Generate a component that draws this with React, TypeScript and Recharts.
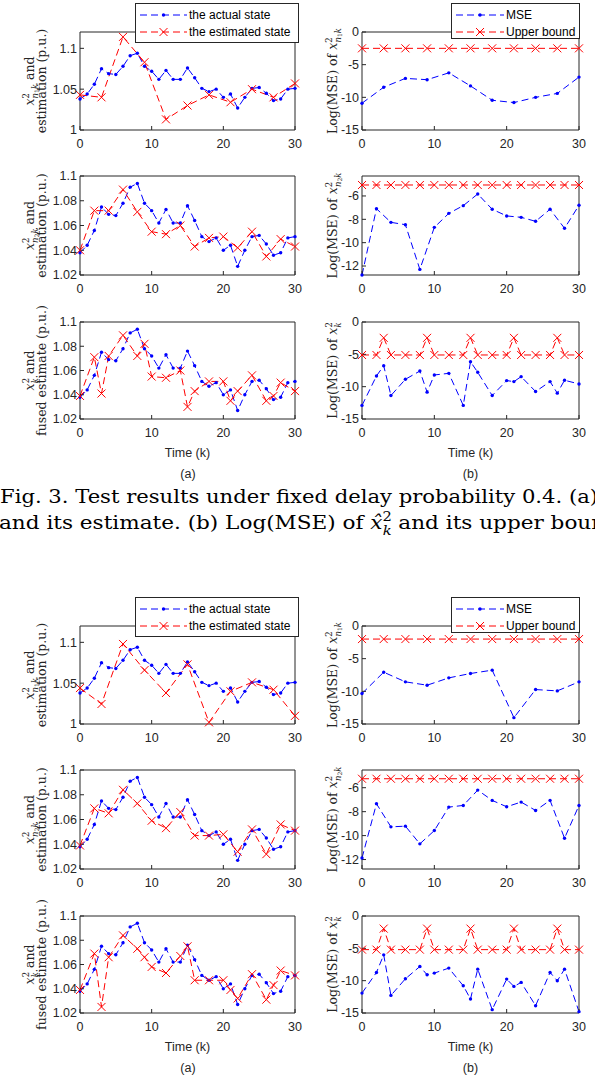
import { LineChart, Line, XAxis, YAxis } from "recharts"

const BLUE = "#0000ff"
const RED = "#ff0000"
const INK = "#262626"
const SANS = "'Liberation Sans', Arial, Helvetica, sans-serif"
const SERIF = "'DejaVu Serif', 'Liberation Serif', serif"
const DASH = "7 4"

// time steps / sampling instants
const TIME_K = [0, 1, 2, 3, 4, 5, 6, 7, 8, 9, 10, 11, 12, 13, 14, 15, 16, 17, 18, 19, 20, 21, 22, 23, 24, 25, 26, 27, 28, 29, 30]
const K_N1 = [0, 3, 6, 9, 12, 15, 18, 21, 24, 27, 30]
const K_N2 = [0, 2, 4, 6, 8, 10, 12, 14, 16, 18, 20, 22, 24, 26, 28, 30]
const K_FUSED = [0, 2, 3, 4, 6, 8, 9, 10, 12, 14, 15, 16, 18, 20, 21, 22, 24, 26, 27, 28, 30]

const X_TICKS = [0, 10, 20, 30]
const Y_TICKS_N1 = [1, 1.05, 1.1]
const Y_TICKS_EST = [1.02, 1.04, 1.06, 1.08, 1.1]
const Y_TICKS_LOG = [-15, -10, -5, 0]
const Y_TICKS_LOG_N2 = [-12, -10, -8, -6]

const LEGEND_STATE = ["the actual state", "the estimated state"]
const LEGEND_MSE = ["MSE", "Upper bound"]

// actual state, same trace in every (a) panel
const ACTUAL_STATE = [1.038, 1.044, 1.056, 1.075, 1.069, 1.068, 1.078, 1.091, 1.094, 1.078, 1.072, 1.062, 1.073, 1.062, 1.062, 1.076, 1.064, 1.051, 1.047, 1.05, 1.04, 1.044, 1.027, 1.04, 1.051, 1.052, 1.045, 1.036, 1.038, 1.05, 1.051]

// Fig. 3: fixed delay probability 0.4
const EST_N1_F3 = [1.043, 1.04, 1.114, 1.083, 1.013, 1.03, 1.043, 1.034, 1.05, 1.04, 1.057]
const MSE_N1_F3 = [-10.9, -8.45, -7.1, -7.3, -6.25, -8.25, -10.45, -10.8, -10.0, -9.4, -6.9]
const BOUND_N1_F3 = [-2.5, -2.5, -2.5, -2.5, -2.5, -2.5, -2.5, -2.5, -2.5, -2.5, -2.5]
const EST_N2_F3 = [1.04, 1.072, 1.072, 1.089, 1.071, 1.055, 1.053, 1.06, 1.043, 1.05, 1.051, 1.042, 1.055, 1.035, 1.049, 1.043]
const MSE_N2_F3 = [-12.77, -7.09, -8.26, -8.46, -12.29, -8.69, -7.49, -6.83, -5.83, -7.14, -7.71, -7.83, -8.17, -7.14, -8.77, -6.8]
const BOUND_N2_F3 = [-5.06, -5.06, -5.06, -5.06, -5.06, -5.06, -5.06, -5.06, -5.06, -5.06, -5.06, -5.06, -5.06, -5.06, -5.06, -5.06]
const FUSED_F3 = [1.039, 1.071, 1.041, 1.072, 1.089, 1.072, 1.082, 1.055, 1.054, 1.06, 1.03, 1.043, 1.051, 1.051, 1.035, 1.043, 1.056, 1.035, 1.039, 1.05, 1.043]
const MSE_FUSED_F3 = [-12.9, -8.35, -6.76, -11.37, -8.86, -7.58, -10.85, -8.19, -7.94, -12.9, -6.14, -7.78, -11.37, -9.06, -9.22, -8.45, -10.75, -9.22, -11.0, -9.01, -9.58]
const BOUND_FUSED_F3 = [-5.1, -5.1, -2.45, -5.1, -5.1, -5.1, -2.45, -5.1, -5.1, -5.1, -2.45, -5.1, -5.1, -5.1, -2.45, -5.1, -5.1, -5.1, -2.45, -5.1, -5.1]

// lower figure
const EST_N1_F4 = [1.044, 1.0245, 1.098, 1.066, 1.038, 1.073, 1.002, 1.04, 1.051, 1.042, 1.01]
const MSE_N1_F4 = [-10.34, -7.07, -8.55, -9.06, -7.94, -7.27, -6.76, -14.03, -9.73, -9.93, -8.55]
const BOUND_N1_F4 = [-2, -2, -2, -2, -2, -2, -2, -2, -2, -2, -2]
const EST_N2_F4 = [1.039, 1.069, 1.065, 1.084, 1.073, 1.059, 1.053, 1.066, 1.047, 1.047, 1.048, 1.034, 1.052, 1.032, 1.056, 1.051]
const MSE_N2_F4 = [-11.87, -7.34, -9.27, -9.21, -10.69, -9.58, -7.62, -7.48, -6.2, -7.06, -7.59, -7.2, -7.9, -7.06, -10.22, -7.48]
const BOUND_N2_F4 = [-5.25, -5.25, -5.25, -5.25, -5.25, -5.25, -5.25, -5.25, -5.25, -5.25, -5.25, -5.25, -5.25, -5.25, -5.25, -5.25]
const FUSED_F4 = [1.039, 1.069, 1.025, 1.066, 1.084, 1.073, 1.066, 1.058, 1.053, 1.067, 1.075, 1.047, 1.047, 1.047, 1.039, 1.032, 1.052, 1.031, 1.043, 1.055, 1.051]
const MSE_FUSED_F4 = [-11.92, -8.73, -6.01, -12.28, -9.71, -7.81, -9.09, -8.83, -8.06, -10.79, -12.84, -8.22, -14.48, -9.76, -10.89, -10.27, -13.87, -8.73, -10.02, -8.22, -14.79]
const BOUND_FUSED_F4 = [-5.2, -5.2, -1.95, -5.2, -5.2, -5.2, -1.95, -5.2, -5.2, -5.2, -1.95, -5.2, -5.2, -5.2, -1.95, -5.2, -5.2, -5.2, -1.95, -5.2, -5.2]

function stateRows(est: number[], estK: number[]) {
  return TIME_K.map((k, i) => {
    const j = estK.indexOf(k)
    return { k, actual: ACTUAL_STATE[i], est: j >= 0 ? est[j] : null }
  })
}

function mseRows(ks: number[], mse: number[], bound: number[]) {
  return ks.map((k, i) => ({ k, mse: mse[i], bound: bound[i] }))
}

function xPath(cx: number, cy: number, s = 4) {
  return `M${cx - s},${cy - s}L${cx + s},${cy + s}M${cx - s},${cy + s}L${cx + s},${cy - s}`
}

const BlueDot = (p: any) =>
  p.cy == null ? <g key={p.index} /> : <circle key={p.index} cx={p.cx} cy={p.cy} r={1.7} fill={BLUE} />

const RedX = (p: any) =>
  p.cy == null ? <g key={p.index} /> : <path key={p.index} d={xPath(p.cx, p.cy)} stroke={RED} strokeWidth={1} fill="none" />

const AW = 46
const AH = 26
const MT = 5
const MR = 7

function Panel({ x0, x1, y0, y1, rows, domain, ticks, blueKey, redKey }: any) {
  const w = AW + (x1 - x0) + 1 + MR
  const h = MT + 1 + (y1 - y0) + AH
  const tickStyle = { fill: INK, fontSize: 12.5, fontFamily: SANS }
  return (
    <div style={{ position: "absolute", left: x0 - AW, top: y0 - MT - 1 }}>
      <LineChart width={w} height={h} data={rows} margin={{ top: MT, right: MR, bottom: 0, left: 0 }}>
        <XAxis dataKey="k" type="number" domain={[0, 30]} ticks={X_TICKS} interval={0} height={AH}
          tickSize={-4} tickMargin={13} stroke={INK} tick={tickStyle} />
        <XAxis xAxisId="top" orientation="top" type="number" domain={[0, 30]} ticks={X_TICKS} height={1}
          tickSize={-4} tick={false} stroke={INK} allowDataOverflow />
        <YAxis type="number" domain={domain} ticks={ticks} interval={0} width={AW}
          tickSize={-4} tickMargin={7} stroke={INK} tick={tickStyle} />
        <YAxis yAxisId="right" orientation="right" type="number" domain={domain} ticks={ticks} width={1}
          tickSize={-4} tick={false} stroke={INK} allowDataOverflow />
        <Line dataKey={blueKey} stroke={BLUE} strokeWidth={1} strokeDasharray={DASH} dot={BlueDot}
          activeDot={false} connectNulls isAnimationActive={false} />
        <Line dataKey={redKey} stroke={RED} strokeWidth={1} strokeDasharray={DASH} dot={RedX}
          activeDot={false} connectNulls isAnimationActive={false} />
      </LineChart>
    </div>
  )
}

// x^2 with a stacked subscript; "after" continues on the baseline
function xTerm(sub: string, size: number, after: string, hat = false) {
  const s = size * 0.68
  const up = size * 0.42
  const down = size * 0.3
  const parts = [
    <tspan key="x" fontStyle="italic">{hat ? "x\u0302" : "x"}</tspan>,
    <tspan key="sup" fontSize={s} dy={-up}>2</tspan>,
  ]
  if (sub === "k") {
    parts.push(<tspan key="k" fontSize={s} fontStyle="italic" dx={-s * 0.62} dy={up + down}>k</tspan>)
  } else {
    parts.push(<tspan key="n" fontSize={s} fontStyle="italic" dx={-s * 0.62} dy={up + down}>n</tspan>)
    parts.push(<tspan key="d" fontSize={s * 0.72} dy={size * 0.12}>{sub.slice(1)}</tspan>)
    parts.push(<tspan key="kk" fontSize={s} fontStyle="italic" dy={-size * 0.12}>k</tspan>)
  }
  if (after) parts.push(<tspan key="after" fontSize={size} dy={-down}>{after}</tspan>)
  return parts
}

function LegendBox({ x, y, w, h, sampleW, labels }: any) {
  return (
    <g>
      <rect x={x + 0.5} y={y + 0.5} width={w} height={h} fill="#fff" stroke={INK} strokeWidth={1} />
      {labels.map((lab: string, i: number) => {
        const cy = y + 12 + i * 17
        const a = x + 5
        const b = a + sampleW
        const col = i === 0 ? BLUE : RED
        return (
          <g key={lab}>
            <line x1={a} y1={cy} x2={b} y2={cy} stroke={col} strokeWidth={1} strokeDasharray={DASH} />
            {i === 0
              ? <circle cx={(a + b) / 2} cy={cy} r={1.7} fill={BLUE} />
              : <path d={xPath((a + b) / 2, cy)} stroke={RED} strokeWidth={1} fill="none" />}
            <text x={b + 2} y={cy + 4.3} fontSize={12} fontFamily={SANS} fill="#000">{lab}</text>
          </g>
        )
      })}
    </g>
  )
}

const COL_A = [80, 295]
const COL_B = [362, 579]
const ROWS_Y = [[32, 130], [176, 275], [322, 419]]

const GROUPS = [
  {
    dy: 0,
    est: [stateRows(EST_N1_F3, K_N1), stateRows(EST_N2_F3, K_N2), stateRows(FUSED_F3, K_FUSED)],
    mse: [mseRows(K_N1, MSE_N1_F3, BOUND_N1_F3), mseRows(K_N2, MSE_N2_F3, BOUND_N2_F3), mseRows(K_FUSED, MSE_FUSED_F3, BOUND_FUSED_F3)],
    n2Domain: [-12.77, -4.29],
  },
  {
    dy: 594,
    est: [stateRows(EST_N1_F4, K_N1), stateRows(EST_N2_F4, K_N2), stateRows(FUSED_F4, K_FUSED)],
    mse: [mseRows(K_N1, MSE_N1_F4, BOUND_N1_F4), mseRows(K_N2, MSE_N2_F4, BOUND_N2_F4), mseRows(K_FUSED, MSE_FUSED_F4, BOUND_FUSED_F4)],
    n2Domain: [-12.79, -4.52],
  },
]

const EST_DOMAINS = [[1, 1.12], [1.02, 1.1], [1.02, 1.1]]
const EST_TICKS = [Y_TICKS_N1, Y_TICKS_EST, Y_TICKS_EST]
const SUBS = ["n1", "n2", "k"]
const LINE2 = ["estimation (p.u.)", "estimation (p.u.)", "fused estimate (p.u.)"]

export default function App() {
  const T = 12.5
  return (
    <div style={{ position: "absolute", left: 0, top: 0, width: 595, height: 1077, overflow: "hidden", background: "#fff" }}>
      {GROUPS.map((g, gi) =>
        ROWS_Y.map(([t, b], r) => (
          <div key={`${gi}-${r}`}>
            <Panel x0={COL_A[0]} x1={COL_A[1]} y0={t + g.dy} y1={b + g.dy} rows={g.est[r]}
              domain={EST_DOMAINS[r]} ticks={EST_TICKS[r]} blueKey="actual" redKey="est" />
            <Panel x0={COL_B[0]} x1={COL_B[1]} y0={t + g.dy} y1={b + g.dy} rows={g.mse[r]}
              domain={r === 1 ? g.n2Domain : [-15, 0]} ticks={r === 1 ? Y_TICKS_LOG_N2 : Y_TICKS_LOG}
              blueKey="mse" redKey="bound" />
          </div>
        ))
      )}
      <svg width={595} height={1077} style={{ position: "absolute", left: 0, top: 0, pointerEvents: "none" }}>
        {GROUPS.map((g) => (
          <g key={g.dy}>
            <LegendBox x={135} y={3 + g.dy} w={163} h={39} sampleW={47} labels={LEGEND_STATE} />
            <LegendBox x={451} y={3 + g.dy} w={128} h={35} sampleW={48} labels={LEGEND_MSE} />
            {ROWS_Y.map(([t, b], r) => {
              const cy = (t + b) / 2 + g.dy
              return (
                <g key={r} fontFamily={SERIF} fontSize={T} fill={INK}>
                  <text transform={`translate(34,${cy}) rotate(-90)`} textAnchor="middle">
                    {xTerm(SUBS[r], T, " and")}
                  </text>
                  <text transform={`translate(46,${cy}) rotate(-90)`} textAnchor="middle">{LINE2[r]}</text>
                  <text transform={`translate(337,${cy}) rotate(-90)`} textAnchor="middle">
                    <tspan>Log(MSE) of </tspan>
                    {xTerm(SUBS[r], T, "")}
                  </text>
                </g>
              )
            })}
            <g fontFamily={SANS} fontSize={12.5} fill={INK} textAnchor="middle">
              <text x={187.5} y={456.5 + g.dy}>Time (k)</text>
              <text x={470.5} y={456.5 + g.dy}>Time (k)</text>
              <text x={188} y={477.5 + g.dy}>(a)</text>
              <text x={470.5} y={477.5 + g.dy}>(b)</text>
            </g>
          </g>
        ))}
        <g fontFamily={SERIF} fontSize={19} fill="#000">
          <text x={0} y={503} textLength={598} lengthAdjust="spacingAndGlyphs">
            Fig. 3. Test results under fixed delay probability 0.4. (a)
          </text>
          <text transform="translate(-1,529) scale(1.135,1)">
            <tspan>and its estimate. (b) Log(MSE) of </tspan>
            {xTerm("k", 19, " and its upper bound.", true)}
          </text>
        </g>
      </svg>
    </div>
  )
}
